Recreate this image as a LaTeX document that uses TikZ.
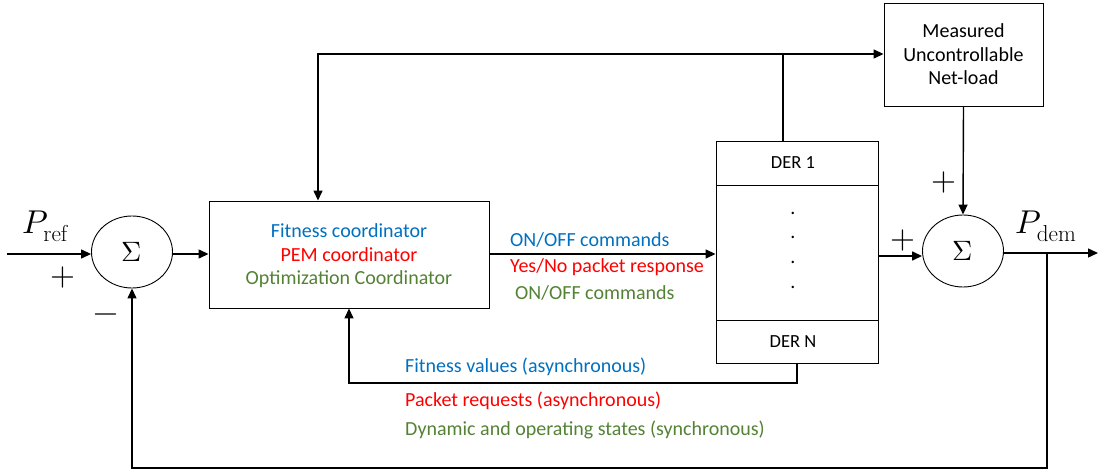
\documentclass[tikz,border=0pt]{standalone}
\usepackage{fontspec}
\setmainfont{Carlito}
\usepackage{unicode-math}
\setmathfont{Latin Modern Math}
\setmathrm{Latin Modern Roman}
\usetikzlibrary{arrows.meta,shapes.geometric}
\definecolor{cblue}{RGB}{0,112,192}
\definecolor{cred}{RGB}{255,0,0}
\definecolor{cgreen}{RGB}{84,130,53}
\tikzset{
  box/.style={draw, line width=0.9pt, inner sep=0pt},
  sumnode/.style={draw, ellipse, line width=0.9pt, minimum width=81pt, minimum height=72pt, inner sep=0pt, font=\fontsize{28}{32}\selectfont},
  conn/.style={line width=1.4pt, -{Triangle[length=10pt,width=9pt]}},
  plain/.style={line width=1.4pt},
  lbl/.style={font=\fontsize{20}{24}\selectfont, inner sep=0pt},
  derlbl/.style={font=\fontsize{18.5}{22}\selectfont, inner sep=0pt},
  sign/.style={font=\fontsize{32}{34}\selectfont, inner sep=0pt},
  mathlbl/.style={font=\fontsize{33}{36}\selectfont, inner sep=0pt},
}
\begin{document}
\begin{tikzpicture}[x=1pt,y=-1pt]
\useasboundingbox (0,0) rectangle (1098,473);
% nodes
\node[sumnode] (s1) at (132,252) {$\Sigma$};
\node[sumnode] (s2) at (963,251) {$\Sigma$};
\node[box, minimum width=280pt, minimum height=107pt] (coord) at (349,254.5) {};
\node[lbl, text=cblue] (t1) at (349,231) {Fitness coordinator};
\node[lbl, text=cred] (t2) at (349,255) {PEM coordinator};
\node[lbl, text=cgreen] (t3) at (349,279) {Optimization Coordinator};
\node[box, minimum width=162pt, minimum height=222pt] (der) at (797,252) {};
\draw[line width=0.9pt] (716,185) -- (878,185);
\draw[line width=0.9pt] (716,320) -- (878,320);
\node[derlbl] (d1) at (793,163) {DER 1};
\node[derlbl] (dn) at (793,342) {DER N};
\foreach \yy [count=\i] in {213,237,262,287} \node[lbl] (dot\i) at (793,\yy) {.};
\node[box, minimum width=159pt, minimum height=103pt, align=center, font=\fontsize{20}{23.5}\selectfont] (meas) at (963.5,54.5) {Measured\\Uncontrollable\\Net-load};
% input
\coordinate (in) at (7,254);
\coordinate (out) at (1098,253);
\node[mathlbl] (pref) at (45,226) {$P_{\mathrm{ref}}$};
\node[mathlbl] (pdem) at (1046,226) {$P_{\mathrm{dem}}$};
\node[sign] (p1) at (63,278) {$+$};
\node[sign] (m1) at (106,318) {$-$};
\node[sign] (p2) at (903,240) {$+$};
\node[sign] (p3) at (944,183) {$+$};
% connectors
\draw[conn] (in) -- (s1.west |- in);
\draw[conn] (s1.east |- 0,254) -- (coord.west |- 0,254);
\draw[conn] (coord.east |- 0,254) -- (der.west |- 0,254);
\draw[conn] (der.east |- 0,256) -- (s2.west |- 0,256);
\draw[conn] (s2.east |- out) -- (out);
\draw[conn] (meas.south) -- (s2.north);
\coordinate (tl) at (318,54);
\coordinate (tj) at (783,54);
\draw[conn] (tj) -- (meas.west |- tj);
\draw[plain] (der.north -| tj) -- (tj);
\draw[conn] (tj) -- (tl) -- (coord.north -| tl);
\coordinate (bj) at (1047,253);
\coordinate (bb) at (1047,468);
\coordinate (bl) at (132,468);
\draw[conn] (bj) -- (bb) -- (bl) -- (s1.south);
\coordinate (fr) at (797,383);
\coordinate (fl) at (349,383);
\draw[conn] (der.south -| fr) -- (fr) -- (fl) -- (coord.south -| fl);
% labels
\node[lbl, text=cblue, anchor=west] (l1) at (510,240) {ON/OFF commands};
\node[lbl, text=cred, anchor=west] (l2) at (510,267) {Yes/No packet response};
\node[lbl, text=cgreen, anchor=west] (l3) at (515,293) {ON/OFF commands};
\node[lbl, text=cblue, anchor=west] (b1) at (405,367) {Fitness values (asynchronous)};
\node[lbl, text=cred, anchor=west] (b2) at (405,401) {Packet requests (asynchronous)};
\node[lbl, text=cgreen, anchor=west] (b3) at (405,430) {Dynamic and operating states (synchronous)};
\end{tikzpicture}
\end{document}
